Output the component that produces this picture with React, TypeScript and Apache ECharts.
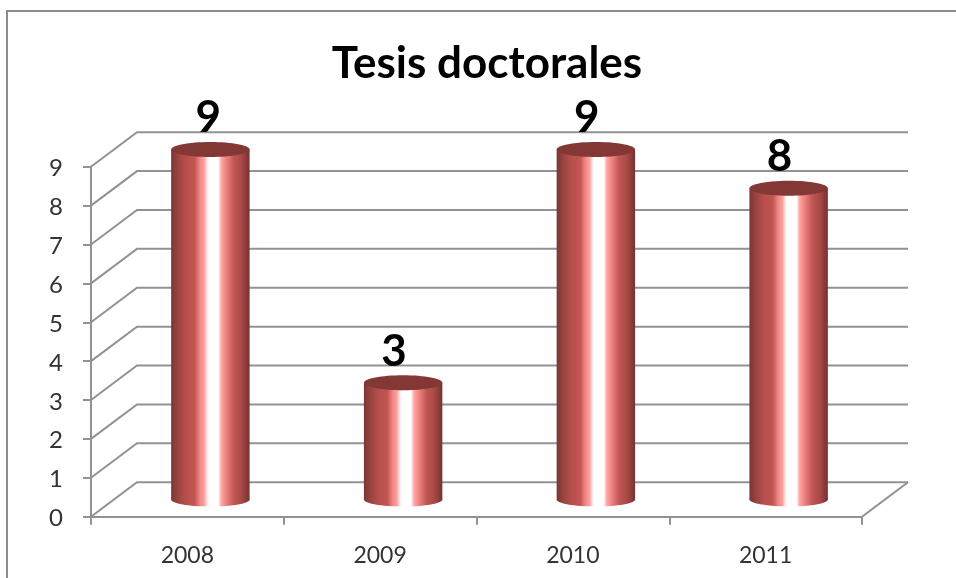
import React, { useEffect, useRef } from "react";
import * as echarts from "echarts";

const chartTitle = "Tesis doctorales";
const years = ["2008", "2009", "2010", "2011"];
const theses = [9, 3, 9, 8];
const yTicks = [0, 1, 2, 3, 4, 5, 6, 7, 8, 9];

const FONT = "Lato, 'Open Sans', sans-serif";
const GRID_COLOR = "#929292";
const DEPTH_X = 46;
const DEPTH_Y = 34.5;

const cylinderFill = () =>
  new echarts.graphic.LinearGradient(0, 0, 1, 0, [
    { offset: 0, color: "#7a3634" },
    { offset: 0.08, color: "#98433f" },
    { offset: 0.18, color: "#b54e4b" },
    { offset: 0.3, color: "#c25552" },
    { offset: 0.37, color: "#f08a88" },
    { offset: 0.42, color: "#ff9e9c" },
    { offset: 0.46, color: "#ffeeee" },
    { offset: 0.49, color: "#ffffff" },
    { offset: 0.6, color: "#ffffff" },
    { offset: 0.64, color: "#ffa5a3" },
    { offset: 0.72, color: "#e67a78" },
    { offset: 0.8, color: "#c05654" },
    { offset: 0.9, color: "#a84845" },
    { offset: 1, color: "#743230" },
  ]);

export default function App() {
  const ref = useRef<HTMLDivElement>(null);

  useEffect(() => {
    const chart = echarts.init(ref.current!, null, { renderer: "svg" });
    chart.setOption({
      animation: false,
      backgroundColor: "#ffffff",
      title: {
        text: chartTitle,
        left: 482,
        top: 34,
        textAlign: "center",
        textStyle: { fontFamily: FONT, fontSize: 44, fontWeight: "bold", color: "#000000" },
      },
      graphic: [
        { type: "line", shape: { x1: 7, y1: 11, x2: 956, y2: 11 }, style: { stroke: "#8c8c8c", lineWidth: 2 } },
        { type: "line", shape: { x1: 7, y1: 10, x2: 7, y2: 578 }, style: { stroke: "#8c8c8c", lineWidth: 2 } },
      ],
      grid: { left: 91, top: 166.7, width: 771, height: 350, containLabel: false },
      xAxis: {
        type: "category",
        data: years,
        axisLine: { lineStyle: { color: GRID_COLOR, width: 2 } },
        axisTick: { show: true, alignWithLabel: false, length: 8, lineStyle: { color: GRID_COLOR, width: 2 } },
        axisLabel: { margin: 26, fontFamily: FONT, fontSize: 23, color: "#333333" },
      },
      yAxis: {
        type: "value",
        min: 0,
        max: 9,
        interval: 1,
        splitLine: { show: false },
        axisLine: { show: true, lineStyle: { color: GRID_COLOR, width: 2 } },
        axisTick: { show: true, length: 8, lineStyle: { color: GRID_COLOR, width: 2 } },
        axisLabel: { margin: 28, fontFamily: FONT, fontSize: 24, color: "#333333" },
      },
      series: [
        {
          type: "custom",
          name: "wall",
          silent: true,
          z: 1,
          encode: { x: 0, y: 1 },
          data: yTicks.map((v) => [0, v]),
          renderItem: (params: any, api: any) => {
            const y = api.coord([0, api.value(1)])[1];
            const { x, width } = params.coordSys;
            const children: any[] = [
              {
                type: "polyline",
                shape: {
                  points: [
                    [x, y],
                    [x + DEPTH_X, y - DEPTH_Y],
                    [x + width + DEPTH_X, y - DEPTH_Y],
                  ],
                },
                style: { stroke: GRID_COLOR, lineWidth: 2, fill: "none" },
              },
            ];
            if (api.value(1) === 0) {
              children.push({
                type: "line",
                shape: { x1: x + width, y1: y, x2: x + width + DEPTH_X, y2: y - DEPTH_Y },
                style: { stroke: GRID_COLOR, lineWidth: 2 },
              });
            }
            return { type: "group", children };
          },
        },
        {
          type: "custom",
          name: "Tesis doctorales",
          z: 5,
          encode: { x: 0, y: 1 },
          data: theses.map((v, i) => [i, v]),
          renderItem: (_params: any, api: any) => {
            const idx = api.value(0);
            const val = api.value(1);
            const band = api.size([1, 0])[0];
            const rx = band * 0.2035;
            const base = api.coord([idx, 0]);
            const top = api.coord([idx, val]);
            const cx = base[0] + DEPTH_X / 2;
            const yBase = base[1] - DEPTH_Y / 2;
            const yTop = top[1] - DEPTH_Y / 2;
            const fill = cylinderFill();
            return {
              type: "group",
              children: [
                { type: "ellipse", shape: { cx, cy: yBase, rx, ry: 7 }, style: { fill } },
                { type: "rect", shape: { x: cx - rx, y: yTop, width: rx * 2, height: yBase - yTop }, style: { fill } },
                { type: "ellipse", shape: { cx, cy: yTop, rx, ry: 7.5 }, style: { fill: "#843836" } },
                {
                  type: "text",
                  x: cx + (idx === 0 ? -2 : -9),
                  y: yTop - 34,
                  style: {
                    text: String(val),
                    fontFamily: FONT,
                    fontSize: 44,
                    fontWeight: "bold",
                    fill: "#000000",
                    textAlign: "center",
                    textVerticalAlign: "middle",
                  },
                },
              ],
            };
          },
        },
      ],
    });
    return () => chart.dispose();
  }, []);

  return (
    <div
      ref={ref}
      style={{ position: "fixed", left: 0, top: 0, width: 956, height: 578, filter: "blur(0.4px)" }}
    />
  );
}
